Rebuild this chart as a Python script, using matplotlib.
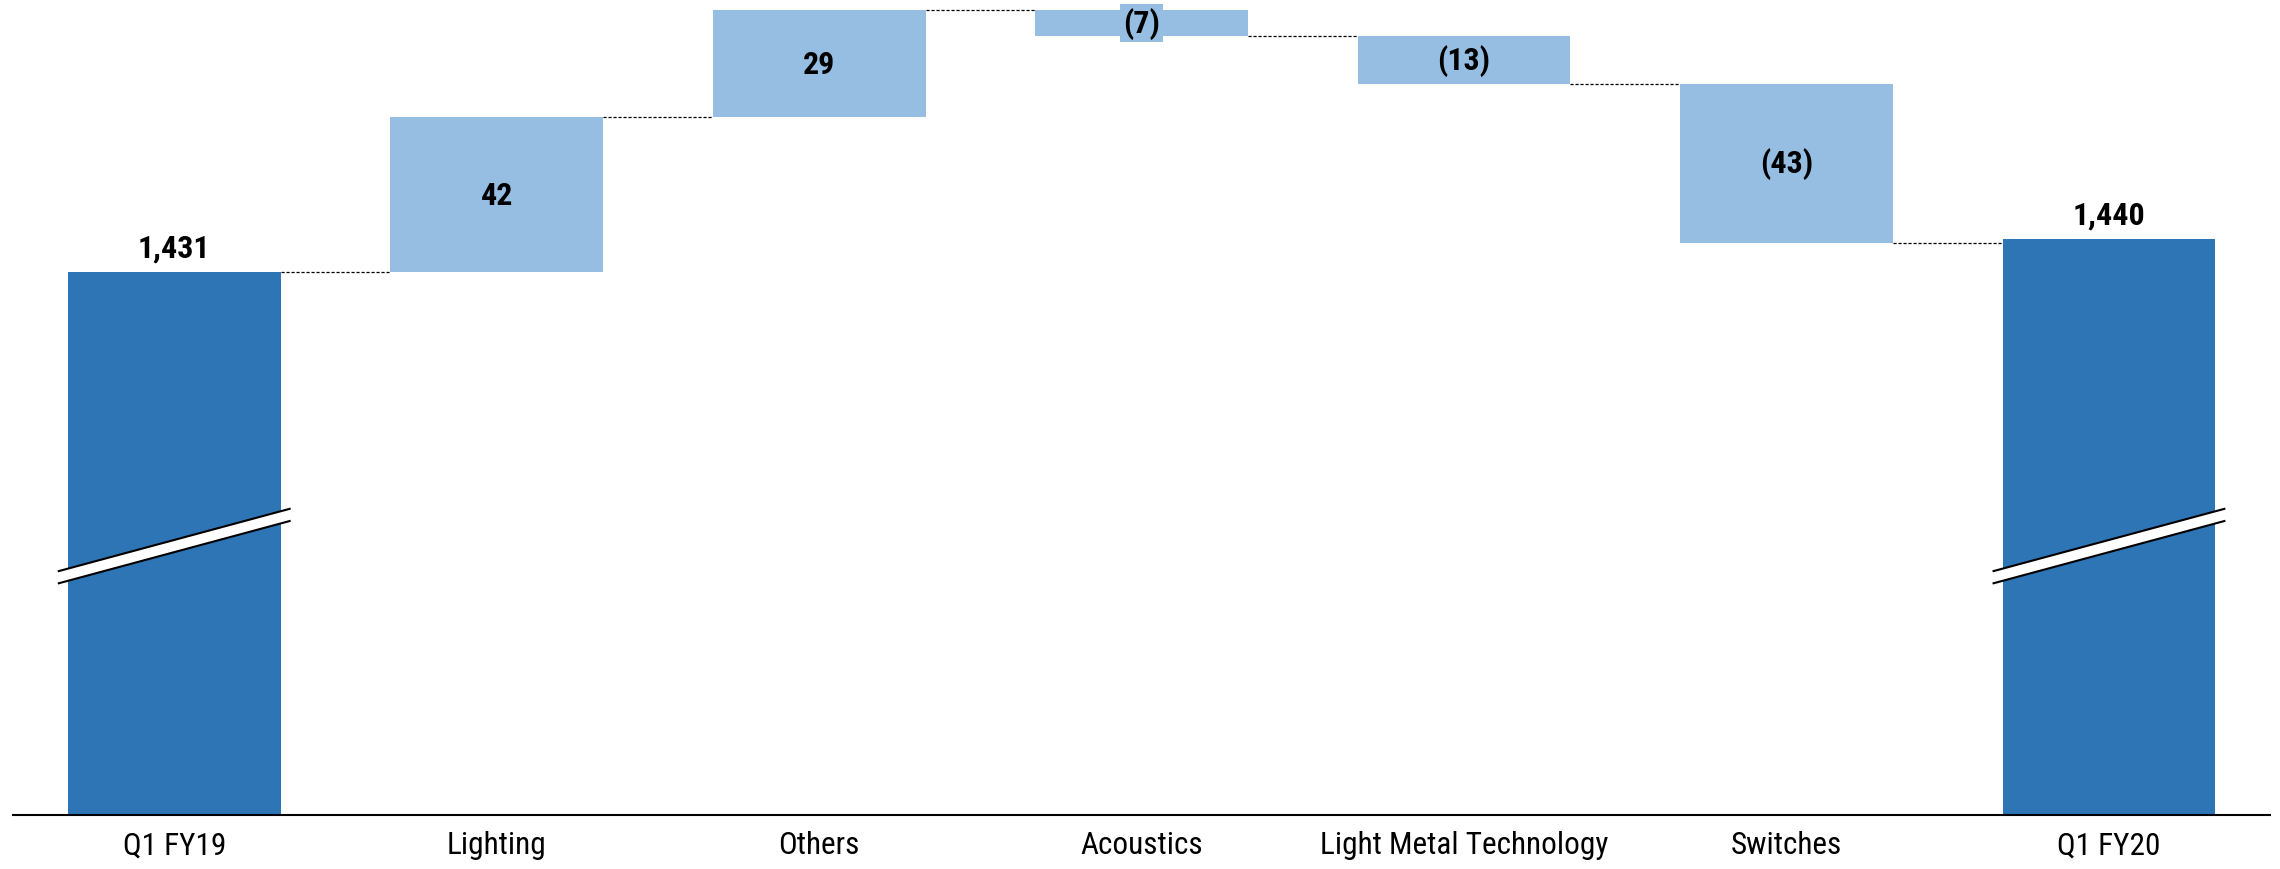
import matplotlib
matplotlib.use("Agg")
import matplotlib.pyplot as plt
from matplotlib import font_manager
from matplotlib.patches import Polygon

# data
categories = ["Q1 FY19", "Lighting", "Others", "Acoustics",
              "Light Metal Technology", "Switches", "Q1 FY20"]
start_total = 1431
changes = [42, 29, -7, -13, -43]
end_total = 1440

DARK = "#2E75B6"
LIGHT = "#95BEE2"

# narrow-ish font close to Calibri, whichever is installed
installed = {f.name for f in font_manager.fontManager.ttflist}
FONT = [f for f in ["Liberation Sans Narrow", "Roboto Condensed", "Lato"] if f in installed]
plt.rcParams['font.family'] = FONT + ["DejaVu Sans"]

fig = plt.figure(figsize=(22.8, 8.7), dpi=100)
ax = fig.add_axes([0.0057, 0.062, 0.99, 0.938])

width = 0.66
ymin, ymax = 1284, 1505

# total bars
for i, v in [(0, start_total), (len(categories) - 1, end_total)]:
    ax.bar(i, v, width=width, color=DARK, zorder=2)
    ax.annotate(f"{v:,}", (i, v), xytext=(0, 7), textcoords="offset points",
                ha="center", va="bottom", fontsize=23, fontweight="bold")

# change bars
level = start_total
levels = [level]
for k, c in enumerate(changes):
    i = k + 1
    bottom = level if c >= 0 else level + c
    ax.bar(i, abs(c), bottom=bottom, width=width, color=LIGHT, zorder=2)
    txt = f"{c}" if c >= 0 else f"({-c})"
    ax.text(i, bottom + abs(c) / 2, txt, ha="center", va="center",
            fontsize=23, fontweight="bold", zorder=3,
            bbox=dict(facecolor=LIGHT, edgecolor="none", pad=2))
    level += c
    levels.append(level)

# dashed connectors
for i, lv in enumerate(levels):
    ax.plot([i + width / 2, i + 1 - width / 2], [lv, lv], color="black",
            lw=0.9, ls=(0, (2.5, 1.5)), zorder=1)

# axis break marks on the total bars
ext = 0.031
for i in [0, len(categories) - 1]:
    x0, x1 = i - width / 2 - ext, i + width / 2 + ext
    up = (1350, 1367)
    lo = (1346.7, 1363.7)
    ax.add_patch(Polygon([(x0, up[0]), (x1, up[1]), (x1, lo[1]), (x0, lo[0])],
                         closed=True, facecolor="white", edgecolor="none", zorder=4))
    ax.plot([x0, x1], up, color="black", lw=1.5, zorder=5, solid_capstyle="butt")
    ax.plot([x0, x1], lo, color="black", lw=1.5, zorder=5, solid_capstyle="butt")

ax.set_xlim(-0.5, 6.5)
ax.set_ylim(ymin, ymax)
ax.set_xticks(range(len(categories)))
ax.set_xticklabels(categories, fontsize=22.5)
ax.tick_params(axis="x", length=0, pad=11)
ax.set_yticks([])
for s in ["top", "right", "left"]:
    ax.spines[s].set_visible(False)
ax.spines["bottom"].set_linewidth(1.5)
ax.spines["bottom"].set_zorder(6)

fig.savefig("out.png", dpi=100)
